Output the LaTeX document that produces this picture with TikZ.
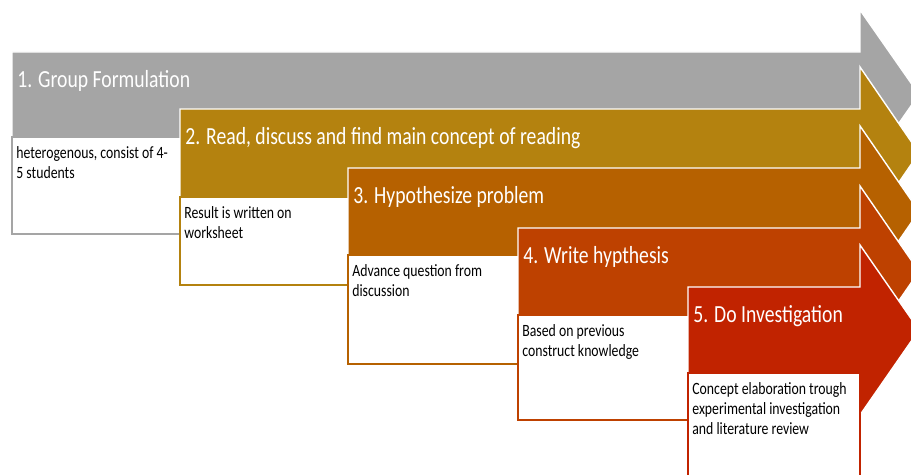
\documentclass[tikz,border=0pt]{standalone}
\usepackage{fontspec}
\setmainfont{Carlito}[FakeStretch=0.8]

\definecolor{stepgrey}{HTML}{A5A5A5}
\definecolor{stepgold}{HTML}{B4820F}
\definecolor{steporange}{HTML}{B66100}
\definecolor{steprust}{HTML}{BE4100}
\definecolor{stepred}{HTML}{C12300}

% #1 name, #2 left, #3 top, #4 body height, #5 box bottom, #6 colour, #7 title, #8 note
\newcommand{\processstep}[8]{%
    \filldraw[steparrow = #6] (#2,#3) -- (860,#3) -- (860,#3-42)
        -- (919,#3+#4/2) -- (860,#3+#4+42) -- (860,#3+#4)
        -- (#2,#3+#4) -- cycle;
    \node[steptitle] (title#1) at (#2+5,#3+36) {#7};
    \filldraw[notebox = #6] (#2,#3+#4) rectangle (#2+172,#5);
    \node[notetext] (note#1) at (#2+4,#3+#4+7.3) {\strut#8};
}

\begin{document}
\begin{tikzpicture}[
        x = 0.02cm, y = -0.02cm,
        steparrow/.style = {fill = #1, draw = white, line width = 0.8pt},
        steptitle/.style = {
                anchor = base west, inner sep = 0pt, text = white,
                font = \fontsize{14}{16}\selectfont
            },
        notebox/.style = {draw = #1, fill = white, line width = 0.7pt},
        notetext/.style = {
                anchor = north west, inner sep = 0pt, align = left,
                font = \fontsize{9.8}{11.3}\selectfont
            }
    ]

    \useasboundingbox (0,0) rectangle (911,475);
    \clip (0,0) rectangle (911,475);

    % later steps lie on top of earlier ones
    \processstep{1}{12}{52}{85}{234}{stepgrey}{1. Group Formulation}
        {heterogenous, consist of 4-\\5 students}
    \processstep{2}{180}{109}{88}{285}{stepgold}{2. Read, discuss and find main concept of reading}
        {Result is written on\\worksheet}
    \processstep{3}{348}{168}{87}{364}{steporange}{3. Hypothesize problem}
        {Advance question from\\discussion}
    \processstep{4}{518}{228}{87}{420}{steprust}{4. Write hypthesis}
        {Based on previous\\construct knowledge}
    \processstep{5}{688}{287}{86}{490}{stepred}{5. Do Investigation}
        {Concept elaboration trough\\experimental investigation\\and literature review}

\end{tikzpicture}
\end{document}
